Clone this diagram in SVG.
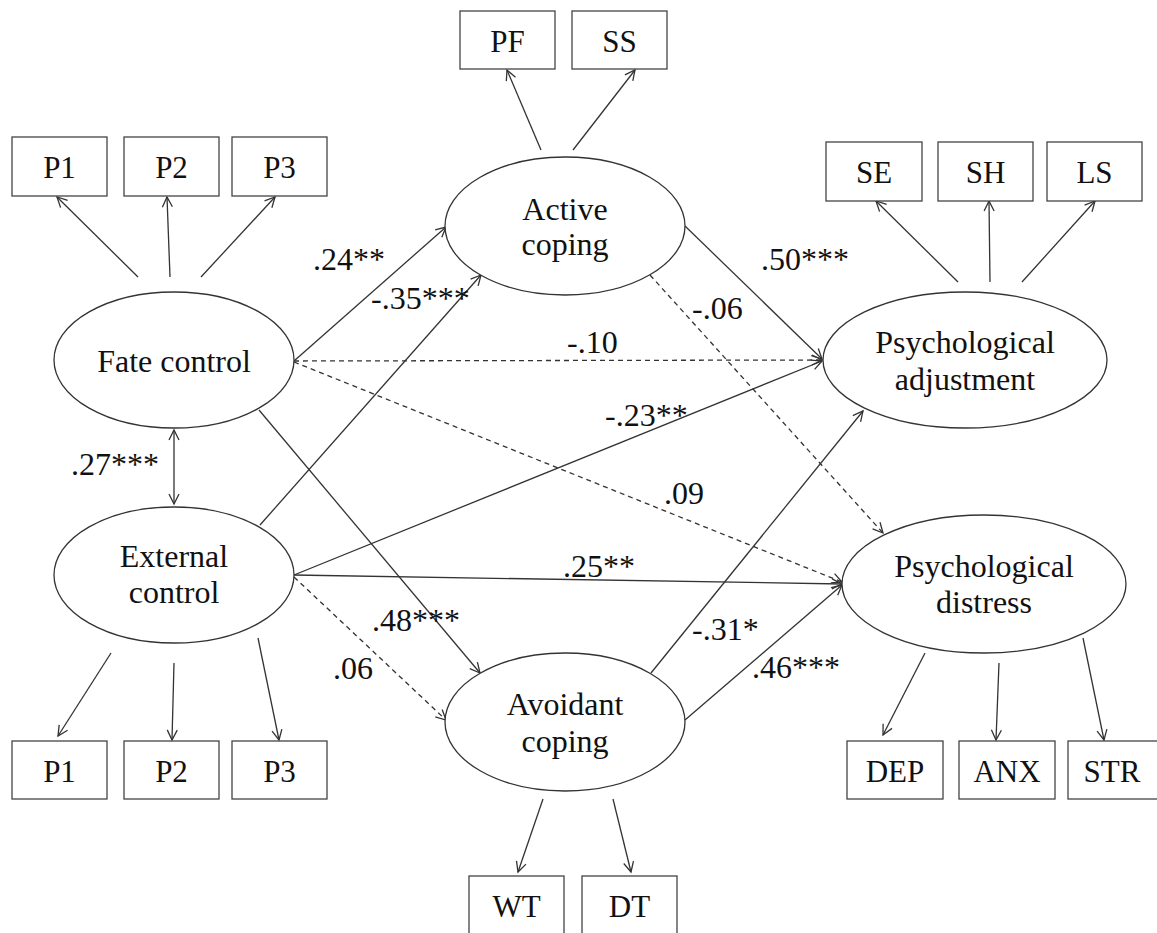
<svg xmlns="http://www.w3.org/2000/svg" width="1157" height="933" viewBox="0 0 1157 933" font-family="Liberation Serif, Times New Roman, serif">
<defs>
<marker id="arr" markerUnits="userSpaceOnUse" markerWidth="14" markerHeight="14" refX="11" refY="6" orient="auto-start-reverse">
<path d="M1,1 L11,6 L1,11" fill="none" stroke="#333" stroke-width="1.3"/>
</marker>
<style>
rect{fill:#fff;stroke:#444;stroke-width:1.3}
ellipse{fill:#fff;stroke:#333;stroke-width:1.3}
text{font-family:"Liberation Serif","Times New Roman",serif;font-size:32px;fill:#111}
.c{text-anchor:middle}
.b{font-size:31px}
line{stroke:#333;stroke-width:1.3;fill:none}
.d{stroke-dasharray:5,4}
</style>
</defs>
<rect width="1157" height="933" fill="#fff" style="stroke:none"/>

<g id="connectors">
<line x1="138" y1="277" x2="57" y2="197" marker-end="url(#arr)"/>
<line x1="170" y1="277" x2="167" y2="197" marker-end="url(#arr)"/>
<line x1="201" y1="277" x2="275" y2="197" marker-end="url(#arr)"/>
<line x1="541" y1="150" x2="507" y2="70" marker-end="url(#arr)"/>
<line x1="573" y1="150" x2="635" y2="70" marker-end="url(#arr)"/>
<line x1="958" y1="282" x2="876" y2="201" marker-end="url(#arr)"/>
<line x1="990" y1="282" x2="989" y2="201" marker-end="url(#arr)"/>
<line x1="1022" y1="282" x2="1095" y2="201" marker-end="url(#arr)"/>
<line x1="111" y1="653" x2="58" y2="736" marker-end="url(#arr)"/>
<line x1="174" y1="663" x2="172" y2="740" marker-end="url(#arr)"/>
<line x1="258" y1="638" x2="279" y2="740" marker-end="url(#arr)"/>
<line x1="925" y1="653" x2="883" y2="735" marker-end="url(#arr)"/>
<line x1="999" y1="663" x2="996" y2="740" marker-end="url(#arr)"/>
<line x1="1083" y1="638" x2="1104" y2="740" marker-end="url(#arr)"/>
<line x1="543" y1="799" x2="518" y2="872" marker-end="url(#arr)"/>
<line x1="613" y1="799" x2="631" y2="872" marker-end="url(#arr)"/>
<line x1="174" y1="430" x2="174" y2="504" marker-start="url(#arr)" marker-end="url(#arr)"/>
<line x1="294" y1="361" x2="446" y2="227" marker-end="url(#arr)"/>
<line x1="260" y1="525" x2="481" y2="275" marker-end="url(#arr)"/>
<line class="d" x1="294" y1="361" x2="822" y2="360" marker-end="url(#arr)"/>
<line class="d" x1="294" y1="362" x2="842" y2="582" marker-end="url(#arr)"/>
<line x1="685" y1="226" x2="822" y2="359" marker-end="url(#arr)"/>
<line class="d" x1="650" y1="275" x2="883" y2="533" marker-end="url(#arr)"/>
<line x1="294" y1="575" x2="822" y2="361" marker-end="url(#arr)"/>
<line x1="294" y1="575" x2="842" y2="584" marker-end="url(#arr)"/>
<line x1="259" y1="410" x2="480" y2="673" marker-end="url(#arr)"/>
<line class="d" x1="294" y1="577" x2="446" y2="720" marker-end="url(#arr)"/>
<line x1="651" y1="673" x2="863" y2="411" marker-end="url(#arr)"/>
<line x1="685" y1="720" x2="842" y2="585" marker-end="url(#arr)"/>
</g>

<g id="labels">
<text x="313" y="270">.24**</text>
<text x="371" y="309">-.35***</text>
<text x="567" y="353">-.10</text>
<text x="761" y="270">.50***</text>
<text x="692" y="319">-.06</text>
<text x="605" y="426">-.23**</text>
<text x="664" y="504">.09</text>
<text x="563" y="577">.25**</text>
<text x="372" y="631">.48***</text>
<text x="333" y="679">.06</text>
<text x="692" y="640">-.31*</text>
<text x="752" y="678">.46***</text>
<text x="71" y="475">.27***</text>
</g>

<g id="fate-control"><ellipse cx="174" cy="360" rx="120" ry="68"/><text class="c" x="174" y="372">Fate control</text></g>
<g id="external-control"><ellipse cx="174" cy="575" rx="120" ry="68"/><text class="c" x="174" y="567">External</text><text class="c" x="174" y="603">control</text></g>
<g id="active-coping"><ellipse cx="565" cy="226" rx="120" ry="69"/><text class="c" x="565" y="220">Active</text><text class="c" x="565" y="255">coping</text></g>
<g id="avoidant-coping"><ellipse cx="565" cy="722" rx="120" ry="69"/><text class="c" x="565" y="715">Avoidant</text><text class="c" x="565" y="752">coping</text></g>
<g id="psych-adjustment"><ellipse cx="965" cy="360" rx="142" ry="68"/><text class="c" x="965" y="353">Psychological</text><text class="c" x="965" y="390">adjustment</text></g>
<g id="psych-distress"><ellipse cx="984" cy="584" rx="142" ry="69"/><text class="c" x="984" y="577">Psychological</text><text class="c" x="984" y="613">distress</text></g>

<g id="fc-p1"><rect x="12" y="137" width="95" height="59"/><text class="c b" x="59.5" y="178">P1</text></g>
<g id="fc-p2"><rect x="124" y="137" width="95" height="59"/><text class="c b" x="171.5" y="178">P2</text></g>
<g id="fc-p3"><rect x="232" y="137" width="95" height="59"/><text class="c b" x="279.5" y="178">P3</text></g>
<g id="pf"><rect x="460" y="11" width="95" height="58"/><text class="c b" x="507.5" y="52">PF</text></g>
<g id="ss"><rect x="572" y="11" width="95" height="58"/><text class="c b" x="619.5" y="52">SS</text></g>
<g id="se"><rect x="826" y="142" width="96" height="59"/><text class="c b" x="874" y="183">SE</text></g>
<g id="sh"><rect x="938" y="142" width="95" height="59"/><text class="c b" x="985.5" y="183">SH</text></g>
<g id="ls"><rect x="1047" y="142" width="95" height="59"/><text class="c b" x="1094.5" y="183">LS</text></g>
<g id="ec-p1"><rect x="12" y="741" width="95" height="58"/><text class="c b" x="59.5" y="782">P1</text></g>
<g id="ec-p2"><rect x="124" y="741" width="95" height="58"/><text class="c b" x="171.5" y="782">P2</text></g>
<g id="ec-p3"><rect x="232" y="741" width="95" height="58"/><text class="c b" x="279.5" y="782">P3</text></g>
<g id="dep"><rect x="847" y="741" width="96" height="58"/><text class="c b" x="895" y="782">DEP</text></g>
<g id="anx"><rect x="959" y="741" width="96" height="58"/><text class="c b" x="1007" y="782">ANX</text></g>
<g id="str"><rect x="1068" y="741" width="96" height="58"/><text class="c b" x="1112" y="782">STR</text></g>
<g id="wt"><rect x="469" y="876" width="95" height="70"/><text class="c b" x="516.5" y="917">WT</text></g>
<g id="dt"><rect x="582" y="876" width="95" height="70"/><text class="c b" x="629.5" y="917">DT</text></g>
</svg>
